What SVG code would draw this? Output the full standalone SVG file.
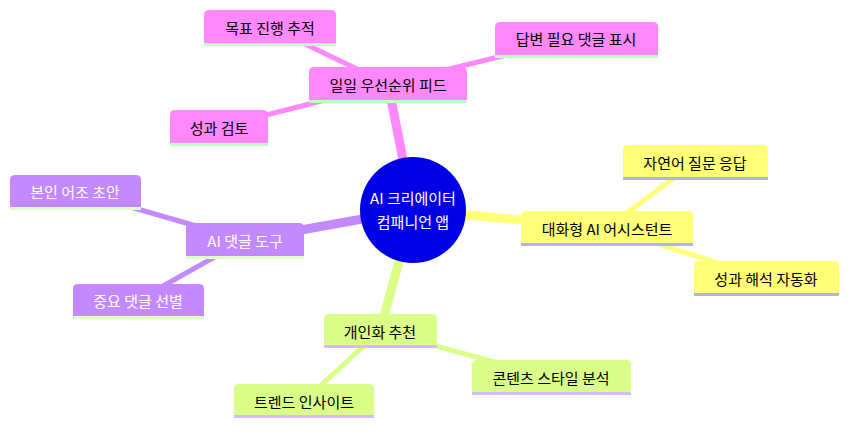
<svg xmlns="http://www.w3.org/2000/svg" width="857" height="432" viewBox="0 0 857 432">
<style>
text{font-family:"Noto Sans CJK KR","Noto Sans",sans-serif;font-size:15px;text-anchor:middle;dominant-baseline:central;fill:#000}
.rt{fill:#fff}
.e1{stroke-width:9;stroke-linecap:butt;fill:none}
.e2{stroke-width:5;fill:none}
.pk{fill:#ff88ff;stroke:#ff88ff}
.pu{fill:#c488ff;stroke:#c488ff}
.ye{fill:#ffff78;stroke:#ffff78}
.gr{fill:#d9ff88;stroke:#d9ff88}
.lpk{stroke:#ff88ff}.lpu{stroke:#c488ff}.lye{stroke:#ffff78}.lgr{stroke:#d9ff88}
.bpk{fill:#c0ffc0}.bpu{fill:#ddffc8}.bye{fill:#b0b0ff}.bgr{fill:#d4bcff}
</style>
<g id="connectors">
<line class="e1 lpk" x1="413" y1="210" x2="388" y2="84"/>
<line class="e1 lpu" x1="413" y1="210" x2="245" y2="240"/>
<line class="e1 lye" x1="413" y1="210" x2="607" y2="228"/>
<line class="e1 lgr" x1="413" y1="210" x2="380" y2="331"/>
<line class="e2 lpk" x1="388" y1="84" x2="270" y2="27"/>
<line class="e2 lpk" x1="388" y1="84" x2="576" y2="38"/>
<line class="e2 lpk" x1="388" y1="84" x2="219" y2="127"/>
<line class="e2 lpu" x1="245" y1="240" x2="75" y2="191"/>
<line class="e2 lpu" x1="245" y1="240" x2="138" y2="300"/>
<line class="e2 lye" x1="607" y1="228" x2="695" y2="162"/>
<line class="e2 lye" x1="607" y1="228" x2="766" y2="278"/>
<line class="e2 lgr" x1="380" y1="331" x2="551" y2="377"/>
<line class="e2 lgr" x1="380" y1="331" x2="304" y2="401"/>
</g>
<g id="root">
<circle cx="413" cy="210" r="53" fill="#0000e6"/>
<text class="rt" x="413" y="197">AI 크리에이터</text>
<text class="rt" x="413" y="221">컴패니언 앱</text>
</g>
<g id="n-feed">
<path class="pk" stroke-width="0" d="M309,100 V72 Q309,67 314,67 H462 Q467,67 467,72 V100 Z"/>
<rect class="bpk" x="309" y="100" width="158" height="3"/>
<text x="388" y="84">일일 우선순위 피드</text>
</g>
<g id="n-goal">
<path class="pk" stroke-width="0" d="M204,43 V15 Q204,10 209,10 H331 Q336,10 336,15 V43 Z"/>
<rect class="bpk" x="204" y="43" width="132" height="3"/>
<text x="270" y="27">목표 진행 추적</text>
</g>
<g id="n-reply">
<path class="pk" stroke-width="0" d="M495,55 V27 Q495,22 500,22 H653 Q658,22 658,27 V55 Z"/>
<rect class="bpk" x="495" y="55" width="163" height="3"/>
<text x="576" y="38">답변 필요 댓글 표시</text>
</g>
<g id="n-review">
<path class="pk" stroke-width="0" d="M170,143 V115 Q170,110 175,110 H263 Q268,110 268,115 V143 Z"/>
<rect class="bpk" x="170" y="143" width="98" height="3"/>
<text x="219" y="127">성과 검토</text>
</g>
<g id="n-comment">
<path class="pu" stroke-width="0" d="M186,256 V228 Q186,223 191,223 H299 Q304,223 304,228 V256 Z"/>
<rect class="bpu" x="186" y="256" width="118" height="3"/>
<text class="rt" x="245" y="240">AI 댓글 도구</text>
</g>
<g id="n-draft">
<path class="pu" stroke-width="0" d="M10,207 V180 Q10,175 15,175 H136 Q141,175 141,180 V207 Z"/>
<rect class="bpu" x="10" y="207" width="131" height="3"/>
<text class="rt" x="75" y="191">본인 어조 초안</text>
</g>
<g id="n-select">
<path class="pu" stroke-width="0" d="M73,316 V289 Q73,284 78,284 H199 Q204,284 204,289 V316 Z"/>
<rect class="bpu" x="73" y="316" width="131" height="3"/>
<text class="rt" x="138" y="300">중요 댓글 선별</text>
</g>
<g id="n-assist">
<path class="ye" stroke-width="0" d="M521,243 V216 Q521,211 526,211 H688 Q693,211 693,216 V243 Z"/>
<rect class="bye" x="521" y="243" width="172" height="3"/>
<text x="607" y="228">대화형 AI 어시스턴트</text>
</g>
<g id="n-nlq">
<path class="ye" stroke-width="0" d="M623,177 V150 Q623,145 628,145 H763 Q768,145 768,150 V177 Z"/>
<rect class="bye" x="623" y="177" width="145" height="3"/>
<text x="695" y="162">자연어 질문 응답</text>
</g>
<g id="n-interp">
<path class="ye" stroke-width="0" d="M694,293 V266 Q694,261 699,261 H834 Q839,261 839,266 V293 Z"/>
<rect class="bye" x="694" y="293" width="145" height="3"/>
<text x="766" y="278">성과 해석 자동화</text>
</g>
<g id="n-personal">
<path class="gr" stroke-width="0" d="M324,345 V319 Q324,314 329,314 H432 Q437,314 437,319 V345 Z"/>
<rect class="bgr" x="324" y="345" width="113" height="3"/>
<text x="380" y="331">개인화 추천</text>
</g>
<g id="n-style">
<path class="gr" stroke-width="0" d="M472,392 V365 Q472,360 477,360 H626 Q631,360 631,365 V392 Z"/>
<rect class="bgr" x="472" y="392" width="159" height="3"/>
<text x="551" y="377">콘텐츠 스타일 분석</text>
</g>
<g id="n-trend">
<path class="gr" stroke-width="0" d="M234,415 V389 Q234,384 239,384 H369 Q374,384 374,389 V415 Z"/>
<rect class="bgr" x="234" y="415" width="140" height="3"/>
<text x="304" y="401">트렌드 인사이트</text>
</g>
</svg>
